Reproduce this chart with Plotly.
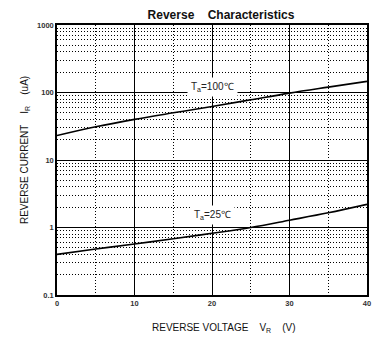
import plotly.graph_objects as go

voltage = [0, 5, 10, 15, 20, 25, 30, 35, 40]
current_100c = [23, 31, 40, 50, 62, 78, 98, 120, 146]
current_25c = [0.40, 0.48, 0.57, 0.68, 0.82, 1.0, 1.28, 1.65, 2.2]
x_ticks = [0, 10, 20, 30, 40]
y_ticks = [0.1, 1, 10, 100, 1000]
y_tick_text = ["<b>0.1</b>", "<b>1</b>", "<b>10</b>", "<b>100</b>", "<b>1000</b>"]
x_tick_text = ["<b>0</b>", "<b>10</b>", "<b>20</b>", "<b>30</b>", "<b>40</b>"]

minor_y = [m * d for d in [0.1, 1, 10, 100] for m in range(2, 10)]

fig = go.Figure()
for ys in (current_100c, current_25c):
    fig.add_trace(go.Scatter(x=voltage, y=ys, mode="lines",
                             line=dict(color="black", width=1.6, shape="spline"),
                             showlegend=False, hoverinfo="skip"))

fig.add_annotation(x=20, y=2.08, xref="x", yref="y", yanchor="middle",
                   text="T<sub>a</sub>=100℃", showarrow=False, bgcolor="white",
                   font=dict(family="Liberation Sans", size=10, color="#222"),
                   borderpad=3)
fig.add_annotation(x=20, y=0.18, xref="x", yref="y", yanchor="middle",
                   text="T<sub>a</sub>=25℃", showarrow=False, bgcolor="white",
                   font=dict(family="Liberation Sans", size=10, color="#222"),
                   borderpad=3)

fig.add_annotation(x=-0.103, y=0.537, xref="paper", yref="paper",
                   xanchor="center", yanchor="middle", textangle=-90,
                   text="REVERSE CURRENT    I<sub>R</sub>    (uA)", showarrow=False,
                   font=dict(family="Liberation Sans", size=10, color="#111"))
fig.add_annotation(x=0.539, y=-0.122, xref="paper", yref="paper",
                   xanchor="center", yanchor="middle",
                   text="REVERSE VOLTAGE    V<sub>R</sub>    (V)", showarrow=False,
                   font=dict(family="Liberation Sans", size=10, color="#111"))

fig.update_layout(
    width=383, height=354,
    margin=dict(l=57, r=16, t=25, b=59),
    paper_bgcolor="white", plot_bgcolor="white",
    title=dict(text="<b>Reverse    Characteristics</b>", x=0.577, xanchor="center",
               y=0.958, yanchor="middle",
               font=dict(family="Liberation Sans", size=12, color="#111")),
    font=dict(family="Liberation Sans", color="#111"),
)
fig.update_xaxes(range=[0, 40], tickvals=x_ticks, ticktext=x_tick_text, ticks="",
                 showline=True, linecolor="black", linewidth=1.5, mirror=True,
                 showgrid=True, gridcolor="black", gridwidth=1.3, zeroline=False,
                 tickfont=dict(size=7.5, color="#333"),
                 minor=dict(tickvals=[5, 15, 25, 35], showgrid=True,
                            gridcolor="black", griddash="1px,2px", gridwidth=1.2))
fig.update_yaxes(type="log", range=[-1, 3], tickvals=y_ticks, ticktext=y_tick_text,
                 ticks="", showline=True, linecolor="black", linewidth=1.5, mirror=True,
                 showgrid=True, gridcolor="black", gridwidth=1.3, zeroline=False,
                 tickfont=dict(size=7.5, color="#333"),
                 minor=dict(tickvals=minor_y, showgrid=True,
                            gridcolor="black", griddash="1px,2px", gridwidth=1.2))

fig.write_html("out.html")
